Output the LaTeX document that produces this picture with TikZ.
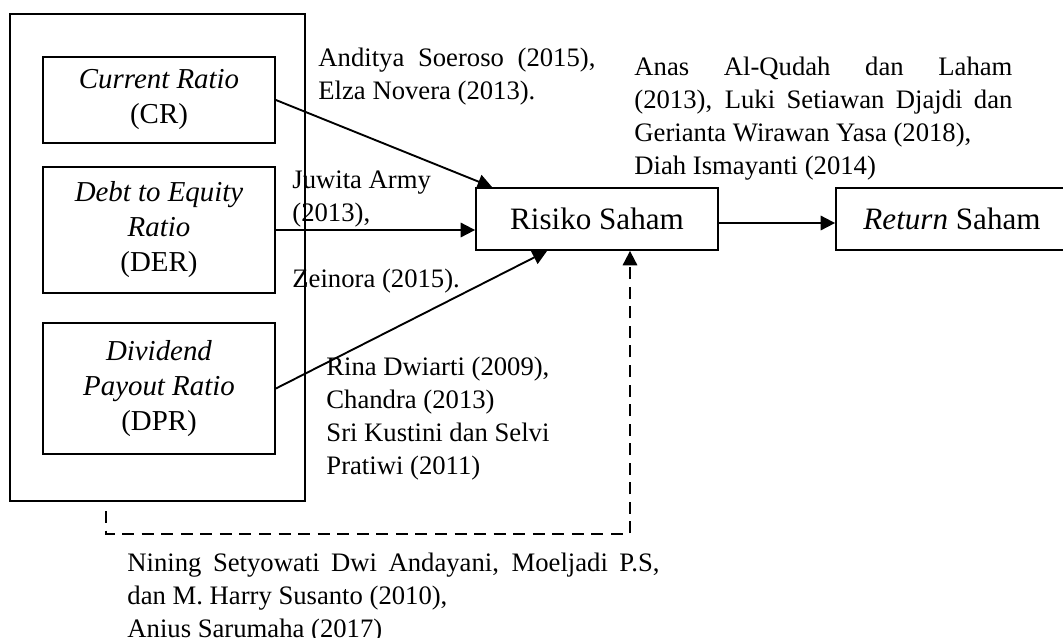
\documentclass[tikz,border=0pt]{standalone}
\usepackage{fontspec}
\setmainfont{Liberation Serif}
\usepackage{tikz}
\usetikzlibrary{arrows.meta, positioning, calc}
\tikzset{
    ratiobox/.style={rectangle, draw=black, line width=0.8pt, minimum width=104.4pt,
        align=center, inner sep=0pt, font=\fontsize{13}{15.75}\selectfont},
    sahambox/.style={rectangle, draw=black, line width=0.8pt, minimum height=27.9pt,
        inner sep=0pt, font=\fontsize{14}{16}\selectfont},
    citetext/.style={anchor=base west, inner sep=0pt, align=left,
        font=\fontsize{12}{14.85}\selectfont},
    citejust/.style={citetext, align=justify},
    linkarrow/.style={-{Triangle[length=6.5pt, width=6.5pt]}, line width=0.85pt},
    dasharrow/.style={linkarrow, dash pattern=on 5.4pt off 3.4pt},
}

\begin{document}
\begin{tikzpicture}[x=0.45pt, y=-0.45pt]
    \useasboundingbox (0,0) rectangle (1063,637);
    % kelompok rasio
    \draw[line width=0.85pt] (10,14) rectangle (305,501);
    \node[ratiobox, minimum height=38.7pt] (cr) at (159,100) {\textit{Current Ratio}\\(CR)};
    \node[ratiobox, minimum height=56.7pt] (der) at (159,230) {\textit{Debt to Equity}\\\textit{Ratio}\\(DER)};
    \node[ratiobox, minimum height=59pt] (dpr) at (159,388.5) {\textit{Dividend}\\\textit{Payout Ratio}\\(DPR)};
    % variabel saham
    \node[sahambox, minimum width=108.9pt] (risiko) at (597,219) {Risiko Saham};
    \node[sahambox, minimum width=104.4pt] (return) at (952,219) {\textit{Return} Saham};
    % panah
    \draw[linkarrow] (cr.east) -- ($(risiko.north west)+(17,0)$);
    \draw[linkarrow] (der.east) -- (der.east -| risiko.west);
    \draw[linkarrow] (dpr.east) -- ($(risiko.south west)+(72,0)$);
    \draw[linkarrow] ([yshift=-1.8pt]risiko.east) -- ([yshift=-1.8pt]return.west);
    \coordinate (dstart) at (106,511);
    \coordinate (dturn) at (630,534);
    \draw[dasharrow] (dstart) |- (dturn) -- (dturn |- risiko.south);
    % sumber penelitian
    \node[citejust, text width=124.65pt] (srccr) at (318,66)
        {Anditya Soeroso (2015),\linebreak Elza Novera (2013).};
    \node[citetext] (srcder) at (292,221) {Juwita Army\\(2013),};
    \node[citetext] (srcder2) at (292,287) {Zeinora (2015).};
    \node[citetext] (srcdpr) at (326,474)
        {Rina Dwiarti (2009),\\Chandra (2013)\\Sri Kustini dan Selvi\\Pratiwi (2011)};
    \node[citejust, text width=170.1pt] (srcret) at (634,75)
        {Anas Al-Qudah dan Laham\linebreak (2013), Luki Setiawan Djajdi dan\linebreak
         Gerianta Wirawan Yasa (2018),\newline Diah Ismayanti (2014)};
    \node[citejust, text width=239.4pt] (srcall) at (127,571)
        {Nining Setyowati Dwi Andayani, Moeljadi P.S,\linebreak dan M. Harry Susanto (2010),\newline Anius Sarumaha (2017)};
\end{tikzpicture}
\end{document}
